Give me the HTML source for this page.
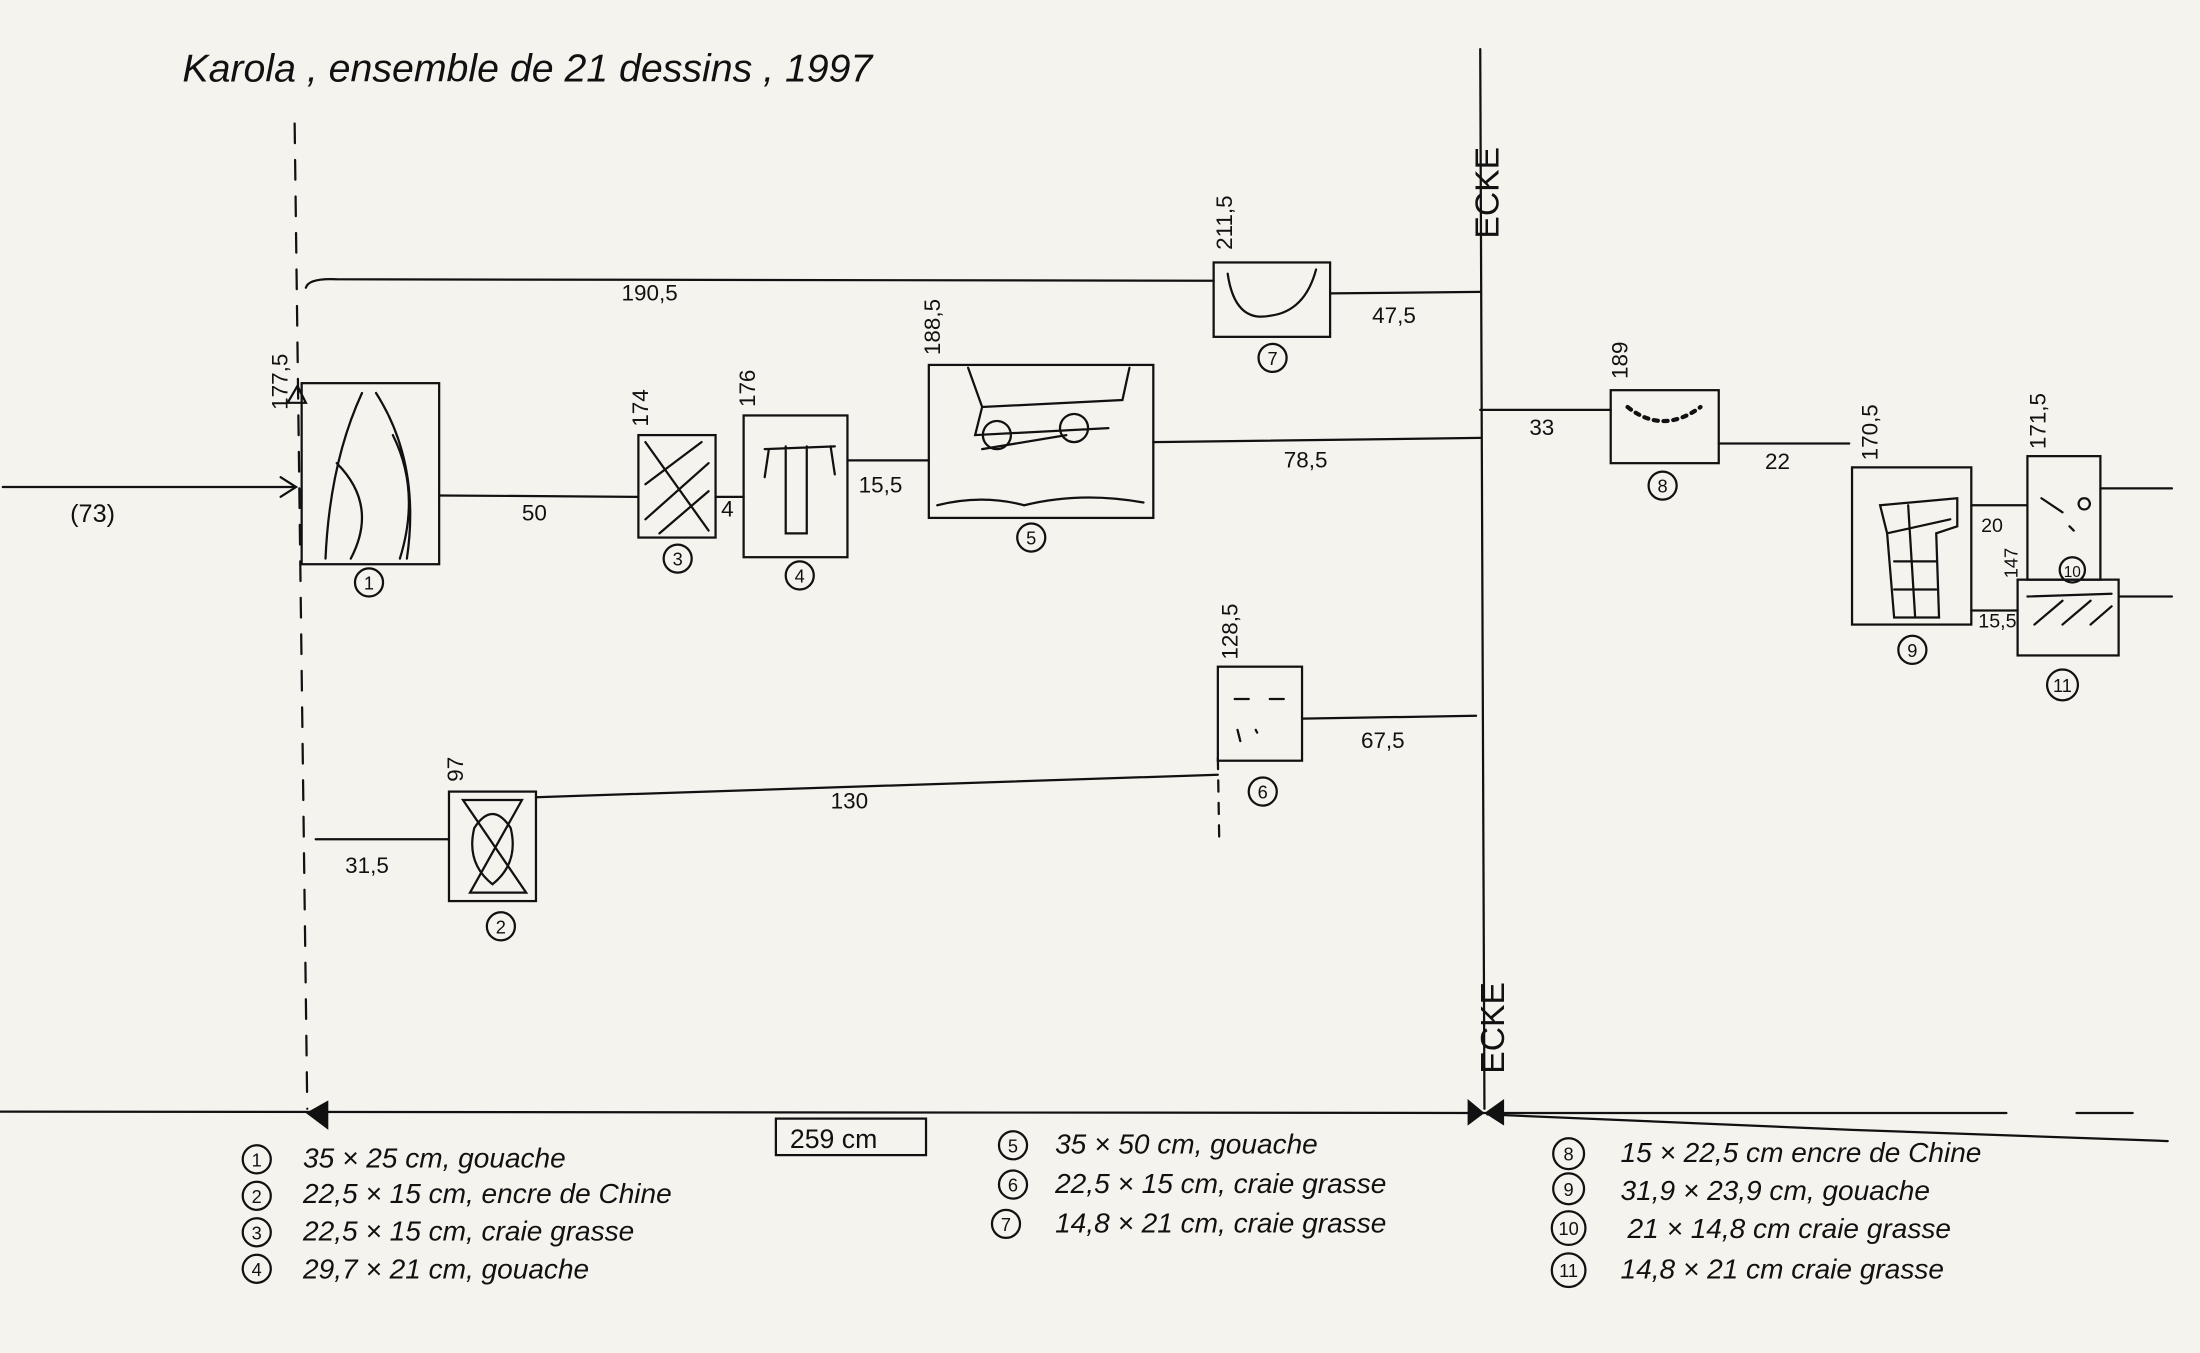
<!DOCTYPE html>
<html><head><meta charset="utf-8"><style>
html,body{margin:0;padding:0;background:#f5f3ee;}
svg{display:block}
text{font-family:"Liberation Sans",sans-serif;fill:#111}
</style></head><body>
<svg width="2200" height="1353" viewBox="0 0 1568 964" preserveAspectRatio="none" xmlns="http://www.w3.org/2000/svg">
<rect width="1568" height="964" fill="#f5f3ee"/>
<g stroke="#111" stroke-width="1.6" fill="none" stroke-linecap="round">
<!-- frame lines -->
<line x1="210" y1="88" x2="219" y2="790" stroke-dasharray="14,12"/>
<line x1="1055" y1="35" x2="1058" y2="790"/>
<path d="M0 792 L1050 793 L1430 793"/>
<path d="M1480 793 L1520 793"/>
<path d="M1060 794 L1320 805 L1545 813"/>
<!-- rows -->
<path d="M218 205 Q220 198 240 199 L865 200"/>
<line x1="948" y1="209" x2="1055" y2="208"/>
<line x1="2" y1="347" x2="210" y2="347"/>
<path d="M200 340 L211 347 L200 354"/>
<line x1="313" y1="353" x2="455" y2="354"/>
<line x1="510" y1="354" x2="530" y2="354"/>
<line x1="604" y1="328" x2="662" y2="328"/>
<line x1="822" y1="315" x2="1055" y2="312"/>
<line x1="1055" y1="292" x2="1148" y2="292"/>
<line x1="1225" y1="316" x2="1318" y2="316"/>
<line x1="1405" y1="360" x2="1445" y2="360"/>
<line x1="1497" y1="348" x2="1548" y2="348"/>
<line x1="1405" y1="435" x2="1438" y2="435"/>
<line x1="1510" y1="425" x2="1548" y2="425"/>
<line x1="928" y1="512" x2="1052" y2="510"/>
<line x1="382" y1="568" x2="868" y2="552"/>
<line x1="225" y1="598" x2="320" y2="598"/>
<line x1="868" y1="540" x2="869" y2="600" stroke-dasharray="8,8"/>
<!-- boxes -->
<rect x="865" y="187" width="83" height="53"/>
<rect x="215" y="273" width="98" height="129"/>
<rect x="455" y="310" width="55" height="73"/>
<rect x="530" y="296" width="74" height="101"/>
<rect x="662" y="260" width="160" height="109"/>
<rect x="1148" y="278" width="77" height="52"/>
<rect x="1320" y="333" width="85" height="112"/>
<rect x="1445" y="325" width="52" height="88"/>
<rect x="1438" y="413" width="72" height="54"/>
<rect x="868" y="475" width="60" height="67"/>
<rect x="320" y="564" width="62" height="78"/>
<rect x="553" y="797" width="107" height="26"/>
<!-- sketches -->
<path d="M875 195 Q880 230 905 225 Q930 222 938 192"/>
<path d="M258 280 Q235 330 232 398 M268 280 Q300 330 290 398 M240 330 Q270 360 250 398 M280 310 Q300 350 285 398"/>
<path d="M460 315 L505 378 M460 345 L500 315 M460 370 L505 330 M470 380 L505 350"/>
<path d="M545 320 L595 318 M560 318 L560 380 L575 380 L575 318 M548 320 L545 340 M592 318 L595 338"/>
<path d="M690 262 L700 290 L800 285 L805 262 M700 290 L695 310 L790 305 M710 300 a10 10 0 1 0 1 0 M765 295 a10 10 0 1 0 1 0 M700 320 L760 310 M668 360 Q700 352 730 360 Q770 350 815 358"/>
<path d="M1160 290 Q1185 310 1212 290" stroke-dasharray="3,4" stroke-width="3"/>
<path d="M1340 360 L1395 355 L1395 375 L1380 380 L1382 440 L1350 440 L1345 380 Z M1345 380 L1390 370 M1350 400 L1380 400 M1350 420 L1380 420 M1360 360 L1365 440"/>
<path d="M1455 355 L1470 365 M1485 355 a4 4 0 1 0 1 0 M1475 375 L1478 378"/>
<path d="M1445 425 L1505 423 M1450 445 L1470 428 M1470 445 L1490 428 M1490 445 L1505 432"/>
<path d="M880 498 L890 498 M905 498 L915 498 M882 520 L884 528 M895 520 L896 522"/>
<path d="M330 570 L372 570 L335 636 L375 636 Z M338 590 Q351 570 364 590 Q370 615 351 630 Q332 615 338 590"/>
<!-- circles -->
<circle cx="907" cy="255" r="10"/><circle cx="263" cy="415" r="10"/><circle cx="483" cy="398" r="10"/>
<circle cx="570" cy="410" r="10"/><circle cx="735" cy="383" r="10"/><circle cx="1185" cy="346" r="10"/>
<circle cx="1363" cy="463" r="10"/><circle cx="1477" cy="406" r="9"/><circle cx="1470" cy="488" r="11"/>
<circle cx="900" cy="564" r="10"/><circle cx="357" cy="660" r="10"/>
<circle cx="183" cy="826" r="10"/><circle cx="183" cy="852" r="10"/><circle cx="183" cy="878" r="10"/><circle cx="183" cy="904" r="10"/>
<circle cx="722" cy="816" r="10"/><circle cx="722" cy="844" r="10"/><circle cx="717" cy="872" r="10"/>
<circle cx="1118" cy="822" r="11"/><circle cx="1118" cy="847" r="11"/><circle cx="1118" cy="875" r="12"/><circle cx="1118" cy="905" r="12"/>
<path d="M205 287 L212 275 L218 287 Z"/>
</g>
<path d="M234 784 L218 793 L234 805 Z" fill="#111"/>
<path d="M1046 783 L1058 793 L1046 802 Z M1072 783 L1058 793 L1072 802 Z" fill="#111"/>
<g font-size="16">
<text x="130" y="58" font-size="28" font-style="italic">Karola , ensemble de 21 dessins , 1997</text>
<text x="443" y="214">190,5</text><text x="978" y="230">47,5</text>
<text x="50" y="372" font-size="18">(73)</text><text x="372" y="371">50</text><text x="514" y="368">4</text>
<text x="612" y="351">15,5</text><text x="915" y="333">78,5</text><text x="1090" y="310">33</text>
<text x="1258" y="334">22</text><text x="1412" y="379" font-size="14">20</text><text x="1410" y="447" font-size="14">15,5</text>
<text x="970" y="533">67,5</text><text x="592" y="576">130</text><text x="246" y="622">31,5</text>
<text x="563" y="818" font-size="19">259 cm</text>
<text x="878" y="178" transform="rotate(-90 878 178)">211,5</text>
<text x="205" y="292" transform="rotate(-90 205 292)">177,5</text>
<text x="462" y="304" transform="rotate(-90 462 304)">174</text>
<text x="538" y="290" transform="rotate(-90 538 290)">176</text>
<text x="670" y="253" transform="rotate(-90 670 253)">188,5</text>
<text x="1160" y="270" transform="rotate(-90 1160 270)">189</text>
<text x="1338" y="328" transform="rotate(-90 1338 328)">170,5</text>
<text x="1458" y="320" transform="rotate(-90 1458 320)">171,5</text>
<text x="1438" y="412" font-size="13" transform="rotate(-90 1438 412)">147</text>
<text x="882" y="470" transform="rotate(-90 882 470)">128,5</text>
<text x="330" y="557" transform="rotate(-90 330 557)">97</text>
<text x="1068" y="170" font-size="24" transform="rotate(-90 1068 170)">ECKE</text>
<text x="1072" y="765" font-size="24" transform="rotate(-90 1072 765)">ECKE</text>
<g font-size="13" text-anchor="middle">
<text x="907" y="260">7</text><text x="263" y="420">1</text><text x="483" y="403">3</text><text x="570" y="415">4</text>
<text x="735" y="388">5</text><text x="1185" y="351">8</text><text x="1363" y="468">9</text><text x="1477" y="411" font-size="11">10</text>
<text x="1470" y="493">11</text><text x="900" y="569">6</text><text x="357" y="665">2</text>
<text x="183" y="831">1</text><text x="183" y="857">2</text><text x="183" y="883">3</text><text x="183" y="909">4</text>
<text x="722" y="821">5</text><text x="722" y="849">6</text><text x="717" y="877">7</text>
<text x="1118" y="827">8</text><text x="1118" y="852">9</text><text x="1118" y="880">10</text><text x="1118" y="910">11</text>
</g>
<g font-size="20" font-style="italic">
<text x="216" y="832">35 × 25 cm, gouache</text>
<text x="216" y="857">22,5 × 15 cm, encre de Chine</text>
<text x="216" y="884">22,5 × 15 cm, craie grasse</text>
<text x="216" y="911">29,7 × 21 cm, gouache</text>
<text x="752" y="822">35 × 50 cm, gouache</text>
<text x="752" y="850">22,5 × 15 cm, craie grasse</text>
<text x="752" y="878">14,8 × 21 cm, craie grasse</text>
<text x="1155" y="828">15 × 22,5 cm  encre de Chine</text>
<text x="1155" y="855">31,9 × 23,9 cm, gouache</text>
<text x="1160" y="882">21 × 14,8 cm  craie grasse</text>
<text x="1155" y="911">14,8 × 21 cm  craie grasse</text>
</g>
</g>
</svg>
</body></html>
